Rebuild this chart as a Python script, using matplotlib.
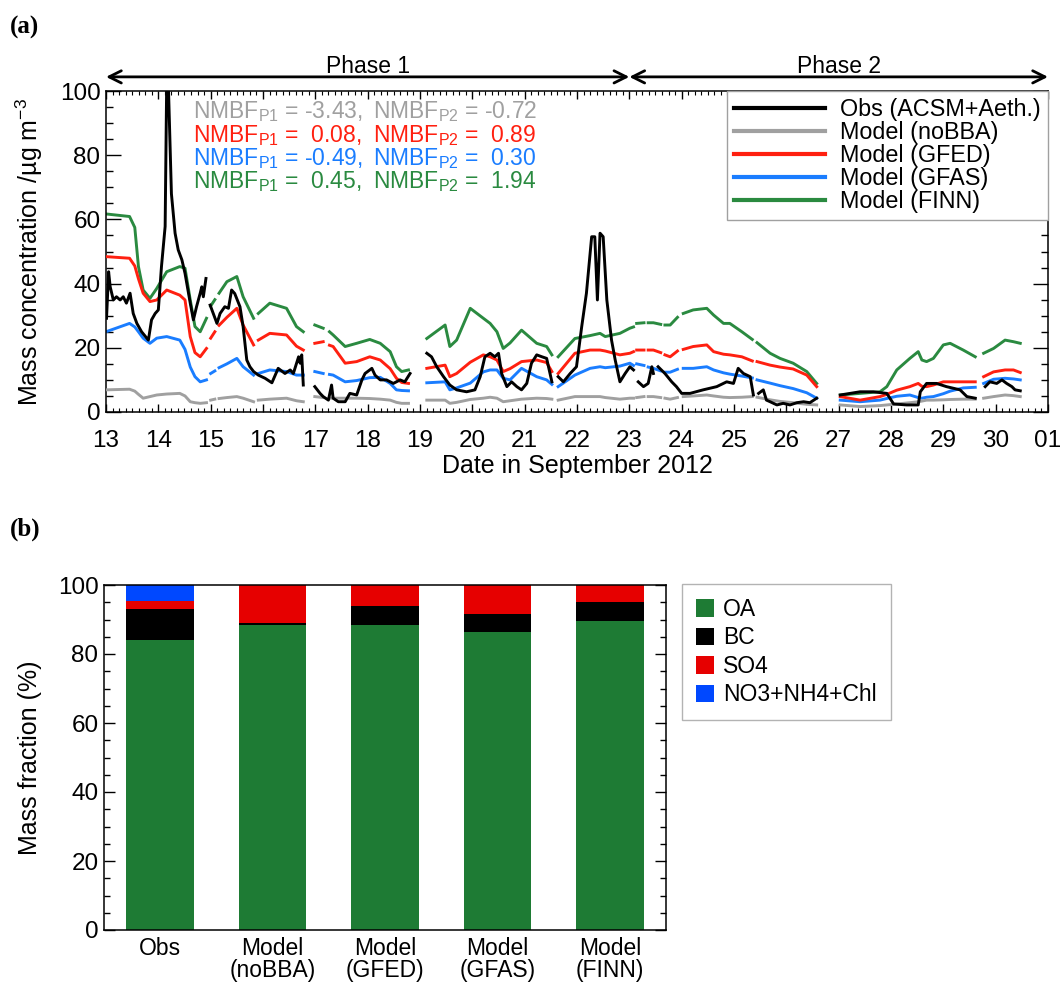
import numpy as np
import matplotlib
matplotlib.use("Agg")
import matplotlib.pyplot as plt
from matplotlib.ticker import MultipleLocator, FixedLocator

plt.rcParams['font.family'] = ['Liberation Sans', 'DejaVu Sans']
plt.rcParams['mathtext.fontset'] = 'custom'
plt.rcParams['mathtext.rm'] = 'Liberation Sans'
plt.rcParams['mathtext.it'] = 'Liberation Sans'
plt.rcParams['font.size'] = 16.5
plt.rcParams['xtick.labelsize'] = 17.5
plt.rcParams['ytick.labelsize'] = 17.5
plt.rcParams['axes.labelsize'] = 18

nan = np.nan

# ---- panel (a): time series, day of September 2012 ----
obs_t = [13.01, 13.05, 13.08, 13.14, 13.20, 13.27, 13.33, 13.39, 13.46, 13.52, 13.59, 13.68,
         13.81, 13.87, 13.94, 14.00, 14.06, 14.13, 14.16, 14.19, 14.25, 14.32, 14.38, 14.45,
         14.51, 14.61, 14.67, 14.73, 14.80, 14.83, 14.86, 14.91, 14.95, 14.99, 15.05, 15.12,
         15.18, 15.27, 15.34, 15.40, 15.46, 15.56, 15.62, 15.69, 15.75, 15.82, 15.91, 16.04,
         16.17, 16.29, 16.42, 16.52, 16.58, 16.68, 16.71, 16.74, 16.77, 16.88, 16.99, 17.09,
         17.15, 17.25, 17.31, 17.34, 17.44, 17.57, 17.66, 17.79, 17.89, 17.95, 18.08, 18.14,
         18.24, 18.36, 18.49, 18.62, 18.71, 18.81, 18.95, 19.13, 19.22, 19.32, 19.45, 19.57,
         19.70, 19.89, 20.05, 20.15, 20.24, 20.34, 20.43, 20.50, 20.56, 20.66, 20.75, 20.85,
         20.94, 21.04, 21.13, 21.23, 21.33, 21.42, 21.52, 21.58, 21.64, 21.74, 21.87, 21.99,
         22.09, 22.18, 22.28, 22.34, 22.39, 22.44, 22.50, 22.57, 22.66, 22.73, 22.82, 22.92,
         23.01, 23.08, 23.12, 23.17, 23.27, 23.36, 23.43, 23.46, 23.50, 23.55, 23.68, 23.81,
         23.90, 24.00, 24.16, 24.41, 24.67, 24.86, 24.99, 25.08, 25.18, 25.31, 25.37, 25.42,
         25.47, 25.56, 25.62, 25.69, 25.82, 25.94, 26.07, 26.20, 26.33, 26.45, 26.58, 26.80,
         27.03, 27.22, 27.41, 27.66, 27.92, 28.05, 28.30, 28.52, 28.56, 28.68, 28.87, 29.06,
         29.19, 29.32, 29.45, 29.61, 29.70, 29.80, 29.89, 30.02, 30.12, 30.21, 30.31, 30.37,
         30.47]
obs_v = [29.2, 43.7, 39.0, 34.9, 35.9, 34.9, 35.9, 33.9, 37.0, 30.7, 27.6, 25.0,
         22.4, 28.7, 30.7, 31.8, 45.3, 57.8, 103, 103, 68.0, 55.7, 50.5, 47.4,
         43.2, 33.9, 28.7, 32.8, 37.0, 39.0, 35.9, 41.6, nan, 33.3, 30.7, 27.6,
         30.7, 32.8, 32.3, 38.0, 36.9, 32.8, 26.6, 16.2, 14.1, 12.6, 11.5, 10.5,
         9.1, 13.6, 12.0, 13.1, 12.0, 17.2, 15.2, 17.8, 8.4, nan, 7.9, 5.8,
         4.8, 3.7, 8.4, 4.3, 3.2, 3.2, 5.8, 5.3, 10.0, 12.0, 13.6, 11.5,
         10.0, 10.0, 8.9, 10.0, 9.4, 12.0, nan, 18.3, 17.2, 14.1, 11.0, 8.4,
         6.9, 6.3, 6.9, 11.0, 17.2, 18.3, 17.2, 18.3, 12.0, 7.9, 9.4, 7.9,
         6.9, 8.9, 15.2, 17.8, 17.2, 16.7, 9.4, nan, 11.0, 9.4, 12.0, 14.1,
         26.6, 37.0, 54.6, 54.6, 34.9, 55.7, 54.6, 34.9, 22.4, 16.2, 9.4, 12.0,
         14.1, 13.1, nan, 9.4, 7.9, 8.9, 14.1, 12.0, nan, 14.1, 12.0, 9.4,
         7.9, 5.8, 5.8, 6.9, 7.9, 9.4, 8.9, 13.6, 12.0, 11.0, 5.3, nan,
         5.8, 6.9, 3.7, 3.2, 2.2, 2.7, 2.2, 2.9, 3.2, 2.9, 4.3, nan,
         5.3, 5.8, 6.3, 6.3, 5.8, 2.5, 2.2, 2.2, 6.3, 8.9, 8.9, 7.9,
         7.4, 6.9, 4.8, 4.3, nan, 7.9, 9.4, 8.9, 10.0, 8.9, 7.9, 6.9,
         6.6]

mod_t = [13.00, 13.45, 13.55, 13.62, 13.71, 13.84, 13.97, 14.16, 14.41, 14.51, 14.61, 14.70,
         14.80, 14.92, 14.96, 15.00, 15.08, 15.12, 15.16, 15.31, 15.50, 15.62, 15.82, 15.86,
         15.91, 16.13, 16.45, 16.64, 16.77, 16.88, 16.99, 17.15, 17.21, 17.27, 17.34, 17.57,
         17.79, 18.04, 18.24, 18.43, 18.55, 18.65, 18.78, 18.95, 19.13, 19.48, 19.57, 19.70,
         19.96, 20.21, 20.34, 20.47, 20.59, 20.72, 20.94, 21.23, 21.42, 21.52, 21.58, 21.64,
         21.96, 22.25, 22.44, 22.54, 22.82, 23.01, 23.08, 23.11, 23.14, 23.28, 23.32, 23.36,
         23.46, 23.60, 23.64, 23.68, 23.78, 23.92, 23.97, 24.03, 24.22, 24.48, 24.61, 24.80,
         24.92, 25.15, 25.35, 25.40, 25.44, 25.69, 25.88, 26.13, 26.39, 26.58, 26.80, 27.03,
         27.41, 27.79, 27.92, 28.11, 28.36, 28.52, 28.59, 28.68, 28.81, 29.00, 29.13, 29.38,
         29.61, 29.69, 29.77, 29.96, 30.18, 30.34, 30.47]
finn_v = [61.7, 60.9, 57.5, 45.3, 38.0, 35.4, 38.5, 43.7, 45.3, 44.8, 34.9, 26.6,
          25.0, 29.2, nan, 33.0, 35.0, nan, 37.0, 40.6, 42.2, 35.9, 29.2, nan,
          30.7, 33.9, 32.3, 26.6, 25.0, nan, 27.1, 26.1, nan, 25.0, 24.0, 20.4,
          21.4, 22.6, 21.4, 18.8, 14.1, 12.6, 13.1, nan, 22.9, 27.1, 20.4, 22.4,
          32.3, 29.2, 27.6, 25.0, 19.8, 21.5, 25.5, 21.4, 20.4, 17.8, nan, 17.2,
          22.9, 23.8, 24.5, 23.5, 24.5, 26.1, 26.5, nan, 27.6, 27.8, nan, 27.8,
          27.8, 27.3, nan, 27.1, 27.1, 29.5, nan, 30.7, 31.8, 32.3, 30.2, 27.6,
          27.6, 25.0, 22.6, nan, 21.6, 18.3, 16.7, 15.2, 12.6, 8.9, nan, 5.3,
          5.8, 6.3, 7.9, 13.1, 16.7, 18.8, 16.2, 15.7, 16.7, 20.9, 21.4, 19.3,
          17.2, nan, 18.3, 19.8, 22.4, 21.9, 21.4]
gfed_v = [48.4, 47.9, 45.5, 41.5, 37.0, 34.4, 34.9, 38.0, 36.4, 34.9, 23.5, 18.5,
          17.2, 19.8, nan, 23.0, 25.0, nan, 27.0, 29.5, 32.3, 27.1, 20.9, nan,
          22.4, 24.5, 24.0, 20.5, 19.3, nan, 21.4, 21.9, nan, 20.8, 20.4, 15.2,
          15.7, 17.2, 16.2, 13.5, 10.5, 9.2, 8.9, nan, 13.6, 14.6, 11.0, 12.0,
          15.5, 17.8, 17.2, 16.2, 12.6, 13.5, 15.7, 16.2, 15.4, 12.6, nan, 12.0,
          18.3, 19.3, 19.3, 19.0, 17.8, 18.3, 18.8, nan, 19.3, 19.3, nan, 19.3,
          19.3, 18.5, nan, 17.8, 17.2, 19.0, nan, 19.5, 20.4, 20.9, 18.8, 18.0,
          17.8, 17.2, 15.9, nan, 15.7, 14.6, 14.0, 13.4, 11.5, 7.9, nan, 4.8,
          3.7, 4.8, 5.5, 6.8, 7.9, 8.9, 8.0, 7.9, 8.4, 9.4, 9.4, 9.4,
          9.4, nan, 11.0, 12.5, 13.1, 13.1, 12.3]
gfas_v = [25.0, 27.6, 26.5, 25.0, 23.0, 21.4, 23.0, 23.5, 22.4, 19.5, 14.0, 11.0,
          9.4, 10.0, nan, 12.0, 12.8, nan, 13.8, 15.0, 16.7, 14.1, 11.5, nan,
          12.0, 13.1, 12.6, 11.5, 11.5, nan, 12.6, 12.0, nan, 11.7, 11.5, 9.4,
          9.8, 10.7, 10.8, 8.9, 6.9, 6.7, 6.6, nan, 9.1, 9.4, 6.9, 7.5,
          9.0, 12.5, 13.1, 13.1, 10.5, 10.0, 13.6, 11.0, 10.0, 8.6, nan, 7.9,
          11.5, 13.6, 14.1, 13.8, 14.3, 15.2, 14.5, nan, 15.0, 14.5, nan, 14.0,
          13.6, 12.8, nan, 12.4, 12.4, 13.3, nan, 13.6, 13.6, 14.1, 13.1, 12.2,
          11.8, 11.2, 10.6, nan, 10.0, 9.0, 8.2, 7.3, 6.0, 4.3, nan, 3.7,
          3.2, 3.7, 4.2, 4.9, 5.3, 4.5, 4.3, 4.6, 4.8, 5.7, 6.5, 7.5,
          7.7, nan, 8.9, 10.2, 10.5, 10.3, 10.0]
nobba_v = [6.9, 7.1, 6.5, 5.5, 4.3, 4.8, 5.3, 5.6, 5.8, 5.0, 3.2, 2.9,
           2.7, 2.9, nan, 3.7, 4.0, nan, 4.2, 4.5, 4.8, 4.3, 3.2, nan,
           3.7, 4.0, 4.3, 3.5, 3.2, nan, 4.8, 4.5, nan, 4.3, 4.3, 4.3,
           4.3, 4.2, 4.0, 3.7, 3.0, 2.7, 2.7, nan, 3.7, 3.7, 2.7, 3.0,
           3.9, 4.3, 4.6, 4.3, 3.2, 3.5, 4.0, 4.3, 4.2, 4.0, nan, 3.7,
           4.8, 4.8, 4.8, 4.5, 4.0, 4.3, 4.3, nan, 4.5, 4.8, nan, 4.8,
           4.8, 4.5, nan, 4.3, 4.0, 4.5, nan, 4.8, 5.0, 5.3, 5.0, 4.6,
           4.5, 4.6, 4.8, nan, 4.6, 3.8, 3.3, 2.9, 2.4, 2.2, nan, 2.2,
           1.7, 2.0, 2.2, 2.5, 2.9, 3.2, 3.4, 3.7, 3.7, 3.8, 3.9, 4.0,
           4.0, nan, 4.3, 4.8, 5.3, 5.1, 4.8]

series_labels = ['Obs (ACSM+Aeth.)', 'Model (noBBA)', 'Model (GFED)', 'Model (GFAS)', 'Model (FINN)']
series_colors = ['black', '#a0a0a0', '#ff2010', '#1a7dff', '#2a8a40']
nmbf_p1 = ['-3.43', ' 0.08', '-0.49', ' 0.45']
nmbf_p2 = ['-0.72', ' 0.89', ' 0.30', ' 1.94']
day_ticks = list(range(13, 32))
day_labels = [str(d) for d in range(13, 31)] + ['01']

# ---- panel (b): composition ----
cases = ['Obs', 'Model\n(noBBA)', 'Model\n(GFED)', 'Model\n(GFAS)', 'Model\n(FINN)']
oa = [84.0, 88.5, 88.5, 86.5, 89.5]
bc = [9.0, 0.5, 5.5, 5.0, 5.5]
so4 = [2.5, 11.0, 6.0, 8.5, 5.0]
no3 = [4.5, 0.0, 0.0, 0.0, 0.0]
comp_labels = ['OA', 'BC', 'SO4', 'NO3+NH4+Chl']
comp_colors = ['#1e7b34', 'black', '#e60000', '#0048ff']

W, H = 1061, 982
fig = plt.figure(figsize=(W / 100, H / 100), dpi=100)

ax = fig.add_axes([106 / W, 1 - 412 / H, 942 / W, 321 / H])
ys = [obs_v, nobba_v, gfed_v, gfas_v, finn_v]
for i, v in enumerate(ys):
    t = obs_t if i == 0 else mod_t
    ax.plot(t, v, color=series_colors[i], lw=2.1, label=series_labels[i], zorder=5 - i if i else 6)
ax.set_xlim(13, 31)
ax.set_ylim(0, 100)
ax.xaxis.set_major_locator(FixedLocator(day_ticks))
ax.set_xticklabels(day_labels)
ax.xaxis.set_minor_locator(MultipleLocator(0.125))
ax.yaxis.set_major_locator(MultipleLocator(20))
ax.yaxis.set_minor_locator(MultipleLocator(5))
ax.tick_params(axis='x', which='major', direction='in', length=6, width=1, top=True, pad=13)
ax.tick_params(axis='x', which='minor', direction='in', length=3, width=0.8, top=True)
ax.tick_params(axis='y', which='major', direction='in', length=11, width=1, right=True, pad=4)
ax.tick_params(axis='y', which='minor', direction='in', length=5, width=1, right=True)
for s in ax.spines.values():
    s.set_linewidth(1.1)
ax.set_xlabel('Date in September 2012')
ax.xaxis.set_label_coords(0.5, -0.13)
ax.set_ylabel('Mass concentration /µg m$^{-3}$')
ax.yaxis.set_label_coords(-0.065, 0.5)

leg = ax.legend(loc='upper right', borderaxespad=0, fancybox=False, framealpha=1,
                edgecolor='#a0a0a0', handlelength=3.9, handletextpad=0.65,
                labelspacing=0.0, borderpad=0.3, fontsize=16.8)
leg.get_frame().set_linewidth(1.0)
for ln in leg.get_lines():
    ln.set_linewidth(3)

for i in range(4):
    yy = (412 - (112 + 23.3 * i)) / 321
    c = series_colors[i + 1]
    ax.text((193 - 106) / 942, yy, r'NMBF$_{\rm P1}$ = ' + nmbf_p1[i] + ',',
            transform=ax.transAxes, color=c, va='center', ha='left')
    ax.text((373 - 106) / 942, yy, r'NMBF$_{\rm P2}$ = ' + nmbf_p2[i],
            transform=ax.transAxes, color=c, va='center', ha='left')

# phase arrows
for (a, b, name) in [(13, 23, 'Phase 1'), (23, 31, 'Phase 2')]:
    ax.annotate('', xy=(a, 1.044), xytext=(b, 1.044), xycoords=('data', 'axes fraction'),
                textcoords=('data', 'axes fraction'), annotation_clip=False,
                arrowprops=dict(arrowstyle='<->', lw=2, color='black', shrinkA=0, shrinkB=0,
                                mutation_scale=22))
    ax.text((a + b) / 2, 1.077, name, transform=ax.get_xaxis_transform(), ha='center', va='center')

fig.text(10 / W, 1 - 27 / H, '(a)', family='Liberation Serif', weight='bold', fontsize=18, va='center')
fig.text(10 / W, 1 - 529 / H, '(b)', family='Liberation Serif', weight='bold', fontsize=18, va='center')

# ---- panel (b) ----
bx = fig.add_axes([104 / W, 1 - 930 / H, 562 / W, 345 / H])
x = np.arange(len(cases))
bottom = np.zeros(len(cases))
for vals, lab, col in zip([oa, bc, so4, no3], comp_labels, comp_colors):
    bx.bar(x, vals, width=0.6, bottom=bottom, color=col, label=lab)
    bottom += np.array(vals)
bx.set_xlim(-0.5, len(cases) - 0.5)
bx.set_ylim(0, 100)
bx.set_xticks(x)
bx.set_xticklabels(cases, linespacing=0.95, fontsize=16.5)
bx.yaxis.set_major_locator(MultipleLocator(20))
bx.yaxis.set_minor_locator(MultipleLocator(5))
bx.tick_params(axis='x', length=0, pad=5)
bx.tick_params(axis='y', which='major', direction='in', length=8, width=1, right=True, pad=4)
bx.tick_params(axis='y', which='minor', direction='in', length=4, width=1, right=True)
for s in bx.spines.values():
    s.set_linewidth(1.1)
bx.set_ylabel('Mass fraction (%)')
bx.yaxis.set_label_coords(-0.11, 0.5)
bleg = bx.legend(loc='upper left', bbox_to_anchor=(682 / W, 1 - 584 / H), bbox_transform=fig.transFigure,
                 borderaxespad=0, fancybox=False, edgecolor='#a0a0a0', handlelength=0.8,
                 handleheight=0.8, handletextpad=0.4, labelspacing=0.24, borderpad=0.6)
bleg.get_frame().set_linewidth(1.0)

fig.savefig('out.png', dpi=100)
